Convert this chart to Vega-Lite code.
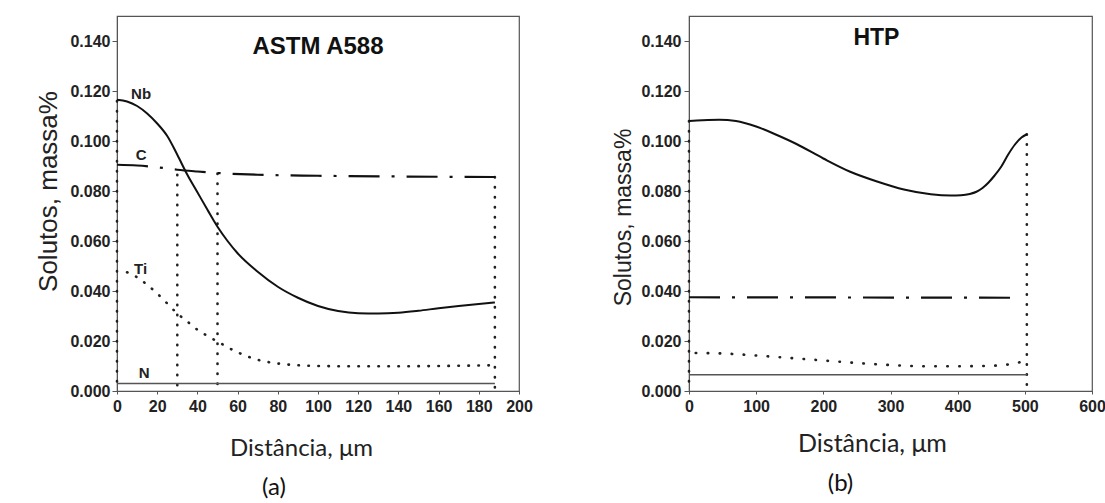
{
  "$schema": "https://vega.github.io/schema/vega-lite/v6.json",
  "autosize": {"type": "pad"},
  "padding": {"left": 34, "top": 15, "right": 0, "bottom": 0},
  "background": "white",
  "bounds": "flush",
  "spacing": 170,
  "config": {
    "view": {"stroke": "#555", "strokeWidth": 1.2},
    "axis": {
      "labelFont": "Liberation Sans", "labelFontWeight": "bold", "labelFontSize": 16, "labelColor": "#222",
      "labelFlush": false, "labelOverlap": false,
      "domainColor": "#555", "tickColor": "#555", "grid": false,
      "titleFontWeight": "normal", "titleColor": "#222", "titleAlign": "center", "titleBaseline": "middle"
    },
    "title": {"font": "Lato", "fontSize": 24, "fontWeight": "normal", "color": "#111", "orient": "bottom"}
  },
  "datasets": {
    "a": [
      {"el": "Nb", "x": 0, "y": 0.1165}, {"el": "Nb", "x": 5, "y": 0.1158}, {"el": "Nb", "x": 10, "y": 0.114},
      {"el": "Nb", "x": 15, "y": 0.111}, {"el": "Nb", "x": 20, "y": 0.107}, {"el": "Nb", "x": 25, "y": 0.102},
      {"el": "Nb", "x": 30, "y": 0.0945}, {"el": "Nb", "x": 35, "y": 0.0865}, {"el": "Nb", "x": 40, "y": 0.0795},
      {"el": "Nb", "x": 45, "y": 0.0725}, {"el": "Nb", "x": 50, "y": 0.0657}, {"el": "Nb", "x": 55, "y": 0.06},
      {"el": "Nb", "x": 60, "y": 0.0551}, {"el": "Nb", "x": 70, "y": 0.0477}, {"el": "Nb", "x": 80, "y": 0.0417},
      {"el": "Nb", "x": 90, "y": 0.0373}, {"el": "Nb", "x": 100, "y": 0.034}, {"el": "Nb", "x": 110, "y": 0.032},
      {"el": "Nb", "x": 120, "y": 0.0311}, {"el": "Nb", "x": 130, "y": 0.031}, {"el": "Nb", "x": 140, "y": 0.0313},
      {"el": "Nb", "x": 150, "y": 0.0321}, {"el": "Nb", "x": 160, "y": 0.0331}, {"el": "Nb", "x": 170, "y": 0.034},
      {"el": "Nb", "x": 180, "y": 0.0348}, {"el": "Nb", "x": 188, "y": 0.0354},
      {"el": "C", "x": 0, "y": 0.0905}, {"el": "C", "x": 10, "y": 0.0902}, {"el": "C", "x": 20, "y": 0.0895},
      {"el": "C", "x": 30, "y": 0.0885}, {"el": "C", "x": 40, "y": 0.0878}, {"el": "C", "x": 50, "y": 0.0872},
      {"el": "C", "x": 70, "y": 0.0865}, {"el": "C", "x": 100, "y": 0.0861}, {"el": "C", "x": 140, "y": 0.0858},
      {"el": "C", "x": 188, "y": 0.0856},
      {"el": "Ti", "x": 5, "y": 0.0475}, {"el": "Ti", "x": 10, "y": 0.0455}, {"el": "Ti", "x": 15, "y": 0.0425},
      {"el": "Ti", "x": 20, "y": 0.039}, {"el": "Ti", "x": 25, "y": 0.035}, {"el": "Ti", "x": 30, "y": 0.031},
      {"el": "Ti", "x": 35, "y": 0.0278}, {"el": "Ti", "x": 40, "y": 0.0245}, {"el": "Ti", "x": 45, "y": 0.022},
      {"el": "Ti", "x": 50, "y": 0.0198}, {"el": "Ti", "x": 55, "y": 0.0175}, {"el": "Ti", "x": 60, "y": 0.0155},
      {"el": "Ti", "x": 65, "y": 0.0138}, {"el": "Ti", "x": 70, "y": 0.0125}, {"el": "Ti", "x": 80, "y": 0.011},
      {"el": "Ti", "x": 90, "y": 0.0103}, {"el": "Ti", "x": 100, "y": 0.01}, {"el": "Ti", "x": 120, "y": 0.0099},
      {"el": "Ti", "x": 140, "y": 0.0099}, {"el": "Ti", "x": 160, "y": 0.01}, {"el": "Ti", "x": 188, "y": 0.0103},
      {"el": "N", "x": 0, "y": 0.003}, {"el": "N", "x": 188, "y": 0.003}
    ],
    "a_rules": [
      {"x": 0, "y": 0.116}, {"x": 30, "y": 0.0865}, {"x": 50, "y": 0.087}, {"x": 188, "y": 0.0856}
    ],
    "a_labels": [
      {"label": "Nb", "x": 12, "y": 0.1187}, {"label": "C", "x": 12, "y": 0.0944},
      {"label": "Ti", "x": 11.7, "y": 0.0487}, {"label": "N", "x": 13.5, "y": 0.0071}
    ],
    "a_title": [{"label": "ASTM A588", "x": 100, "y": 0.1377}],
    "b": [
      {"el": "Nb", "x": 0, "y": 0.108}, {"el": "Nb", "x": 20, "y": 0.1083}, {"el": "Nb", "x": 45, "y": 0.1085},
      {"el": "Nb", "x": 70, "y": 0.108}, {"el": "Nb", "x": 100, "y": 0.1058}, {"el": "Nb", "x": 130, "y": 0.1025},
      {"el": "Nb", "x": 160, "y": 0.0988}, {"el": "Nb", "x": 200, "y": 0.093}, {"el": "Nb", "x": 240, "y": 0.0877},
      {"el": "Nb", "x": 280, "y": 0.0838}, {"el": "Nb", "x": 320, "y": 0.0806}, {"el": "Nb", "x": 360, "y": 0.0787},
      {"el": "Nb", "x": 390, "y": 0.0782}, {"el": "Nb", "x": 405, "y": 0.0783}, {"el": "Nb", "x": 418, "y": 0.0788},
      {"el": "Nb", "x": 428, "y": 0.0797}, {"el": "Nb", "x": 437, "y": 0.0812}, {"el": "Nb", "x": 446, "y": 0.0834},
      {"el": "Nb", "x": 455, "y": 0.0862}, {"el": "Nb", "x": 465, "y": 0.0898}, {"el": "Nb", "x": 475, "y": 0.0945},
      {"el": "Nb", "x": 485, "y": 0.0985}, {"el": "Nb", "x": 495, "y": 0.1014}, {"el": "Nb", "x": 503, "y": 0.1027},
      {"el": "C", "x": 0, "y": 0.0375}, {"el": "C", "x": 487, "y": 0.0373},
      {"el": "Ti", "x": 10, "y": 0.0152}, {"el": "Ti", "x": 50, "y": 0.015}, {"el": "Ti", "x": 100, "y": 0.0142},
      {"el": "Ti", "x": 150, "y": 0.0132}, {"el": "Ti", "x": 200, "y": 0.0122}, {"el": "Ti", "x": 250, "y": 0.0112},
      {"el": "Ti", "x": 300, "y": 0.0104}, {"el": "Ti", "x": 350, "y": 0.0099}, {"el": "Ti", "x": 400, "y": 0.0099},
      {"el": "Ti", "x": 450, "y": 0.0101}, {"el": "Ti", "x": 475, "y": 0.0106}, {"el": "Ti", "x": 490, "y": 0.0113},
      {"el": "Ti", "x": 503, "y": 0.0125},
      {"el": "N", "x": 0, "y": 0.0065}, {"el": "N", "x": 503, "y": 0.0065}
    ],
    "b_rules": [
      {"x": 0, "y": 0.108}, {"x": 503, "y": 0.1027}
    ],
    "b_title": [{"label": "HTP", "x": 279, "y": 0.1413}]
  },
  "hconcat": [
    {
      "width": 402, "height": 375,
      "title": {"text": "(a)", "dx": -44, "offset": 16},
      "encoding": {
        "x": {"field": "x", "type": "quantitative", "scale": {"domain": [0, 200], "nice": false},
          "axis": {"values": [0, 20, 40, 60, 80, 100, 120, 140, 160, 180, 200], "tickSize": 3, "labelPadding": 4,
            "title": "Distância, μm", "titleFont": "Lato", "titleFontSize": 24, "titleX": 184, "titleY": 57}},
        "y": {"field": "y", "type": "quantitative", "scale": {"domain": [0, 0.15], "nice": false},
          "axis": {"values": [0, 0.02, 0.04, 0.06, 0.08, 0.1, 0.12, 0.14], "format": ".3f", "tickSize": 5, "labelPadding": 2,
            "title": "Solutos, massa%", "titleFont": "Liberation Sans", "titleFontSize": 26, "titleX": -69, "titleY": 175}}
      },
      "layer": [
        {
          "data": {"name": "a_rules"},
          "mark": {"type": "rule", "color": "#222", "strokeWidth": 2.6, "strokeDash": [0.5, 9.5], "strokeCap": "round"},
          "encoding": {"y2": {"datum": 0}}
        },
        {
          "data": {"name": "a"}, "transform": [{"filter": "datum.el === 'N'"}],
          "mark": {"type": "line", "color": "#555", "strokeWidth": 1.4},
          "encoding": {}
        },
        {
          "data": {"name": "a"}, "transform": [{"filter": "datum.el === 'Ti'"}],
          "mark": {"type": "line", "color": "#222", "strokeWidth": 2.6, "strokeDash": [0.5, 9.5], "strokeCap": "round", "interpolate": "monotone"},
          "encoding": {}
        },
        {
          "data": {"name": "a"}, "transform": [{"filter": "datum.el === 'C'"}],
          "mark": {"type": "line", "color": "#111", "strokeWidth": 2.2, "strokeDash": [31, 12, 3, 12], "interpolate": "monotone"},
          "encoding": {}
        },
        {
          "data": {"name": "a"}, "transform": [{"filter": "datum.el === 'Nb'"}],
          "mark": {"type": "line", "color": "#111", "strokeWidth": 2, "interpolate": "monotone"},
          "encoding": {}
        },
        {
          "data": {"name": "a_labels"},
          "mark": {"type": "text", "font": "Liberation Sans", "fontWeight": "bold", "fontSize": 15, "color": "#222", "baseline": "middle", "align": "center"},
          "encoding": {"text": {"field": "label"}}
        },
        {
          "data": {"name": "a_title"},
          "mark": {"type": "text", "font": "Liberation Sans", "fontWeight": "bold", "fontSize": 24, "color": "#111", "baseline": "middle", "align": "center"},
          "encoding": {"text": {"field": "label"}}
        }
      ]
    },
    {
      "width": 403, "height": 375,
      "title": {"text": "(b)", "dx": -50, "offset": 16},
      "encoding": {
        "x": {"field": "x", "type": "quantitative", "scale": {"domain": [0, 600], "nice": false},
          "axis": {"values": [0, 100, 200, 300, 400, 500, 600], "tickSize": 3, "labelPadding": 4,
            "title": "Distância, μm", "titleFont": "Lato", "titleFontSize": 25, "titleX": 183, "titleY": 52}},
        "y": {"field": "y", "type": "quantitative", "scale": {"domain": [0, 0.15], "nice": false},
          "axis": {"values": [0, 0.02, 0.04, 0.06, 0.08, 0.1, 0.12, 0.14], "format": ".3f", "tickSize": 5, "labelPadding": 3,
            "title": "Solutos, massa%", "titleFont": "Liberation Sans", "titleFontSize": 23, "titleX": -66, "titleY": 201}}
      },
      "layer": [
        {
          "data": {"name": "b_rules"},
          "mark": {"type": "rule", "color": "#222", "strokeWidth": 2.6, "strokeDash": [0.5, 9.5], "strokeCap": "round"},
          "encoding": {"y2": {"datum": 0}}
        },
        {
          "data": {"name": "b"}, "transform": [{"filter": "datum.el === 'N'"}],
          "mark": {"type": "line", "color": "#555", "strokeWidth": 1.4},
          "encoding": {}
        },
        {
          "data": {"name": "b"}, "transform": [{"filter": "datum.el === 'Ti'"}],
          "mark": {"type": "line", "color": "#222", "strokeWidth": 2.6, "strokeDash": [0.5, 11.5], "strokeCap": "round", "interpolate": "monotone"},
          "encoding": {}
        },
        {
          "data": {"name": "b"}, "transform": [{"filter": "datum.el === 'C'"}],
          "mark": {"type": "line", "color": "#111", "strokeWidth": 2.2, "strokeDash": [31, 12, 3, 12]},
          "encoding": {}
        },
        {
          "data": {"name": "b"}, "transform": [{"filter": "datum.el === 'Nb'"}],
          "mark": {"type": "line", "color": "#111", "strokeWidth": 2, "interpolate": "monotone"},
          "encoding": {}
        },
        {
          "data": {"name": "b_title"},
          "mark": {"type": "text", "font": "Liberation Sans", "fontWeight": "bold", "fontSize": 23, "color": "#111", "baseline": "middle", "align": "center"},
          "encoding": {"text": {"field": "label"}}
        }
      ]
    }
  ]
}
